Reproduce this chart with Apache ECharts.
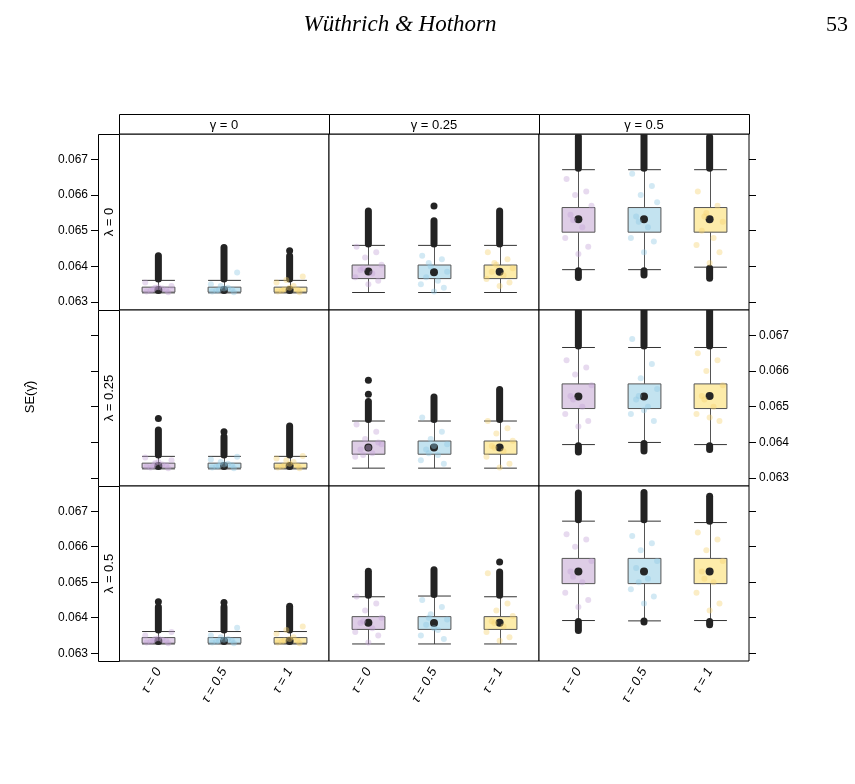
<!DOCTYPE html>
<html>
<head>
<meta charset="utf-8">
<script src="https://cdn.jsdelivr.net/npm/echarts@6/dist/echarts.min.js"></script>
<style>
  html, body { margin: 0; padding: 0; background: #fff; }
  #chart { width: 855px; height: 784px; }
</style>
</head>
<body>
<div id="chart"></div>
<script>
// labels
var tauLabels = ['τ = 0', 'τ = 0.5', 'τ = 1'];
var gammaLabels = ['γ = 0', 'γ = 0.25', 'γ = 0.5'];
var lambdaLabels = ['λ = 0', 'λ = 0.25', 'λ = 0.5'];
var yTicks = [0.063, 0.064, 0.065, 0.066, 0.067];
// dashed reference line, one per gamma column
var trueSE = [0.06325, 0.06375, 0.06520];

// panels row by row (lambda), then gamma; per tau: [low, q1, centre, q3, up]
var boxStats = [
    [[0.06326, 0.06328, 0.06334, 0.06342, 0.06361], [0.06326, 0.06328, 0.06334, 0.06342, 0.06361], [0.06326, 0.06328, 0.06334, 0.06342, 0.06361]],
    [[0.06327, 0.06366, 0.06386, 0.06404, 0.06459], [0.06327, 0.06366, 0.06384, 0.06404, 0.06459], [0.06327, 0.06366, 0.06385, 0.06404, 0.06459]],
    [[0.06391, 0.06496, 0.06532, 0.06565, 0.06671], [0.06391, 0.06496, 0.06532, 0.06565, 0.06671], [0.06398, 0.06496, 0.06532, 0.06565, 0.06671]],
    [[0.06326, 0.06328, 0.06334, 0.06342, 0.06361], [0.06326, 0.06328, 0.06334, 0.06342, 0.06361], [0.06326, 0.06328, 0.06334, 0.06342, 0.06361]],
    [[0.06328, 0.06367, 0.06386, 0.06404, 0.06460], [0.06328, 0.06367, 0.06386, 0.06404, 0.06460], [0.06328, 0.06367, 0.06386, 0.06404, 0.06460]],
    [[0.06394, 0.06495, 0.06529, 0.06564, 0.06666], [0.06400, 0.06495, 0.06529, 0.06564, 0.06666], [0.06394, 0.06495, 0.06530, 0.06564, 0.06666]],
    [[0.06326, 0.06328, 0.06334, 0.06344, 0.06361], [0.06326, 0.06328, 0.06334, 0.06344, 0.06361], [0.06326, 0.06328, 0.06334, 0.06344, 0.06361]],
    [[0.06326, 0.06367, 0.06386, 0.06403, 0.06459], [0.06326, 0.06367, 0.06385, 0.06403, 0.06461], [0.06326, 0.06367, 0.06386, 0.06403, 0.06459]],
    [[0.06392, 0.06496, 0.06530, 0.06567, 0.06672], [0.06391, 0.06496, 0.06530, 0.06567, 0.06672], [0.06392, 0.06496, 0.06530, 0.06567, 0.06668]]
];

// top of the dense run of outliers above the upper whisker
var outHigh = [
    [0.06430, 0.06453, 0.06429], [0.06555, 0.06528, 0.06555], [0.06764, 0.06780, 0.06763],
    [0.06435, 0.06416, 0.06446], [0.06515, 0.06527, 0.06548], [0.06780, 0.06780, 0.06780],
    [0.06430, 0.06430, 0.06432], [0.06531, 0.06535, 0.06529], [0.06751, 0.06753, 0.06742]
];
// bottom of the run below the lower whisker (gamma = 0.5 only)
var outLow = [
    null, null, [0.06369, 0.06376, 0.06367],
    null, null, [0.06373, 0.06376, 0.06380],
    null, null, [0.06364, 0.06391, 0.06380]
];
// single outliers apart from the run
var outIso = [
    [[], [], [0.06444]], [[], [0.06569], []], [[], [], []],
    [[0.06467], [0.06430], []], [[0.06535, 0.06574], [], []], [[], [], []],
    [[0.06445], [0.06443], []], [[], [], [0.06557]], [[], [], []]
];

// jittered raw points
var jitX = [-0.18, 0.12, -0.05, 0.2, -0.12, 0.06, -0.2, 0.15, 0.0, -0.08];
var jitVals = [
    [[0.06330, 0.06335, 0.06340, 0.06345, 0.06332, 0.06338, 0.06355, 0.06328, 0.06342, 0.06336],
     [0.06330, 0.06336, 0.06345, 0.06383, 0.06332, 0.06340, 0.06350, 0.06328, 0.06338, 0.06334],
     [0.06330, 0.06335, 0.06362, 0.06372, 0.06332, 0.06345, 0.06355, 0.06328, 0.06340, 0.06336]],
    [[0.06455, 0.06440, 0.06425, 0.06405, 0.06390, 0.06380, 0.06370, 0.06360, 0.06350, 0.06395],
     [0.06430, 0.06420, 0.06400, 0.06385, 0.06370, 0.06360, 0.06350, 0.06340, 0.06330, 0.06410],
     [0.06440, 0.06420, 0.06405, 0.06395, 0.06385, 0.06375, 0.06365, 0.06355, 0.06345, 0.06410]],
    [[0.06645, 0.06610, 0.06600, 0.06570, 0.06545, 0.06510, 0.06480, 0.06455, 0.06435, 0.06530],
     [0.06660, 0.06625, 0.06600, 0.06580, 0.06540, 0.06510, 0.06480, 0.06470, 0.06440, 0.06525],
     [0.06610, 0.06570, 0.06550, 0.06525, 0.06500, 0.06480, 0.06460, 0.06440, 0.06410, 0.06540]],
    [[0.06332, 0.06336, 0.06342, 0.06350, 0.06330, 0.06338, 0.06358, 0.06328, 0.06345, 0.06334],
     [0.06330, 0.06337, 0.06345, 0.06360, 0.06332, 0.06340, 0.06352, 0.06328, 0.06338, 0.06334],
     [0.06330, 0.06335, 0.06350, 0.06362, 0.06332, 0.06345, 0.06355, 0.06328, 0.06340, 0.06336]],
    [[0.06450, 0.06430, 0.06410, 0.06395, 0.06380, 0.06370, 0.06360, 0.06400, 0.06385, 0.06365],
     [0.06470, 0.06430, 0.06410, 0.06395, 0.06380, 0.06365, 0.06350, 0.06340, 0.06390, 0.06370],
     [0.06460, 0.06440, 0.06425, 0.06405, 0.06390, 0.06375, 0.06360, 0.06340, 0.06330, 0.06385]],
    [[0.06630, 0.06610, 0.06590, 0.06560, 0.06530, 0.06500, 0.06480, 0.06460, 0.06445, 0.06520],
     [0.06690, 0.06620, 0.06580, 0.06550, 0.06520, 0.06500, 0.06480, 0.06460, 0.06490, 0.06530],
     [0.06650, 0.06630, 0.06600, 0.06560, 0.06530, 0.06500, 0.06480, 0.06460, 0.06470, 0.06520]],
    [[0.06330, 0.06335, 0.06340, 0.06360, 0.06332, 0.06338, 0.06350, 0.06328, 0.06342, 0.06336],
     [0.06330, 0.06336, 0.06345, 0.06372, 0.06332, 0.06340, 0.06350, 0.06328, 0.06338, 0.06334],
     [0.06330, 0.06335, 0.06365, 0.06375, 0.06332, 0.06345, 0.06355, 0.06328, 0.06340, 0.06336]],
    [[0.06460, 0.06440, 0.06420, 0.06400, 0.06385, 0.06370, 0.06360, 0.06350, 0.06330, 0.06390],
     [0.06450, 0.06430, 0.06410, 0.06395, 0.06380, 0.06365, 0.06350, 0.06340, 0.06370, 0.06400],
     [0.06525, 0.06440, 0.06420, 0.06405, 0.06390, 0.06375, 0.06360, 0.06345, 0.06335, 0.06385]],
    [[0.06635, 0.06620, 0.06600, 0.06560, 0.06530, 0.06500, 0.06470, 0.06450, 0.06430, 0.06515],
     [0.06630, 0.06610, 0.06590, 0.06560, 0.06540, 0.06510, 0.06480, 0.06460, 0.06440, 0.06500],
     [0.06640, 0.06620, 0.06590, 0.06560, 0.06530, 0.06500, 0.06470, 0.06440, 0.06420, 0.06510]]
];

var boxColors = ['#decde6', '#c3e3f0', '#fdecaa'];
var jitColors = ['#c4a3d6', '#8fc8e3', '#f5d16f'];

var chart = echarts.init(document.getElementById('chart'));
var font = '"Liberation Sans", Arial, sans-serif';
var panelLeft = 119, panelW = 210;
var rowTop = [134, 310, 486], rowH = [176, 176, 175];

function renderBox(params, api) {
    var x = api.value(0);
    var low = api.coord([x, api.value(1)]);
    var q1 = api.coord([x, api.value(2)]);
    var q3 = api.coord([x, api.value(4)]);
    var up = api.coord([x, api.value(5)]);
    var hw = api.size([0.25, 0])[0];
    var cx = Math.round(low[0]) + 0.5;
    return {
        type: 'group',
        children: [
            {type: 'line', shape: {x1: cx, y1: q3[1], x2: cx, y2: up[1]}, style: {stroke: '#555', lineWidth: 1}},
            {type: 'line', shape: {x1: cx, y1: q1[1], x2: cx, y2: low[1]}, style: {stroke: '#555', lineWidth: 1}},
            {type: 'line', shape: {x1: cx - hw, y1: up[1], x2: cx + hw, y2: up[1]}, style: {stroke: '#333', lineWidth: 1}},
            {type: 'line', shape: {x1: cx - hw, y1: low[1], x2: cx + hw, y2: low[1]}, style: {stroke: '#333', lineWidth: 1}},
            {type: 'rect', shape: {x: cx - hw, y: q3[1], width: 2 * hw, height: q1[1] - q3[1]},
             style: {fill: boxColors[api.value(6)], stroke: '#555', lineWidth: 1}}
        ]
    };
}

function renderRun(params, api) {
    var a = api.coord([api.value(0), api.value(1)]);
    var b = api.coord([api.value(0), api.value(2)]);
    return {
        type: 'line',
        shape: {x1: a[0], y1: a[1], x2: b[0], y2: b[1]},
        style: {stroke: '#232323', lineWidth: 7, lineCap: 'round'}
    };
}

var grids = [], xAxes = [], yAxes = [], series = [], graphics = [];

for (var r = 0; r < 3; r++) {
    for (var c = 0; c < 3; c++) {
        var g = r * 3 + c;
        grids.push({
            left: panelLeft + c * panelW, top: rowTop[r], width: panelW, height: rowH[r],
            show: true, borderColor: '#000', borderWidth: 1, backgroundColor: '#fff'
        });
        xAxes.push({
            gridIndex: g, type: 'value', min: 0.4, max: 3.6,
            axisLine: {show: false}, axisTick: {show: false}, splitLine: {show: false},
            axisLabel: {
                show: r === 2, customValues: [1, 2, 3], rotate: 60, margin: 8,
                fontFamily: font, fontSize: 13, fontStyle: 'italic', color: '#000',
                formatter: function (v) { return tauLabels[Math.round(v) - 1]; }
            }
        });
        var yShow = c !== 1;
        yAxes.push({
            gridIndex: g, type: 'value', min: 0.06278, max: 0.06771,
            show: yShow,
            position: c === 0 ? 'left' : 'right',
            offset: c === 0 ? 21 : 0,
            axisLine: {show: false}, splitLine: {show: false},
            axisTick: {show: true, length: 7, customValues: yTicks, lineStyle: {color: '#000'}},
            axisLabel: {
                show: (c === 0 && r !== 1) || (c === 2 && r === 1),
                customValues: yTicks, margin: 10,
                fontFamily: font, fontSize: 12, color: '#000',
                formatter: function (v) { return v.toFixed(3); }
            }
        });

        var boxData = [], runData = [], isoData = [], midData = [];
        for (var k = 0; k < 3; k++) {
            var s = boxStats[g][k];
            boxData.push([k + 1, s[0], s[1], s[2], s[3], s[4], k]);
            runData.push([k + 1, s[4] + 0.00004, outHigh[g][k]]);
            if (outLow[g]) {
                runData.push([k + 1, s[0] - 0.00003, outLow[g][k]]);
            }
            outIso[g][k].forEach(function (v) { isoData.push([k + 1, v]); });
            midData.push([k + 1, s[2]]);
        }
        series.push({
            type: 'custom', xAxisIndex: g, yAxisIndex: g, z: 2, clip: true,
            renderItem: renderBox, data: boxData, silent: true
        });
        series.push({
            type: 'custom', xAxisIndex: g, yAxisIndex: g, z: 3, clip: true,
            renderItem: renderRun, data: runData, silent: true
        });
        series.push({
            type: 'scatter', xAxisIndex: g, yAxisIndex: g, z: 3, symbolSize: 7,
            itemStyle: {color: '#232323', opacity: 1}, data: isoData, silent: true
        });
        series.push({
            type: 'scatter', xAxisIndex: g, yAxisIndex: g, z: 4, data: [], silent: true,
            markLine: {
                silent: true, symbol: ['none', 'none'], label: {show: false},
                lineStyle: {color: '#000', width: 1, type: [4, 3]},
                data: [{yAxis: trueSE[c]}]
            }
        });
        series.push({
            type: 'scatter', xAxisIndex: g, yAxisIndex: g, z: 5, symbolSize: 8,
            itemStyle: {color: '#262626', opacity: 1}, data: midData, silent: true
        });
        var jit = [];
        for (var k2 = 0; k2 < 3; k2++) {
            for (var j = 0; j < jitX.length; j++) {
                jit.push({value: [k2 + 1 + jitX[j], jitVals[g][k2][j]], itemStyle: {color: jitColors[k2]}});
            }
        }
        series.push({
            type: 'scatter', xAxisIndex: g, yAxisIndex: g, z: 6, symbolSize: 6,
            itemStyle: {opacity: 0.4}, data: jit, silent: true
        });
    }
}

// strips
for (var c2 = 0; c2 < 3; c2++) {
    graphics.push({
        type: 'rect', shape: {x: panelLeft + c2 * panelW + 0.5, y: 114.5, width: panelW, height: 19.5},
        style: {fill: '#fff', stroke: '#000', lineWidth: 1}
    });
    graphics.push({
        type: 'text', x: panelLeft + c2 * panelW + panelW / 2, y: 125,
        style: {text: gammaLabels[c2], fontFamily: font, fontSize: 13, fill: '#000',
                textAlign: 'center', textVerticalAlign: 'middle'}
    });
}
for (var r2 = 0; r2 < 3; r2++) {
    graphics.push({
        type: 'rect', shape: {x: 98.5, y: rowTop[r2] + 0.5, width: 21, height: rowH[r2]},
        style: {fill: '#fff', stroke: '#000', lineWidth: 1}
    });
    graphics.push({
        type: 'text', x: 109, y: rowTop[r2] + rowH[r2] / 2, rotation: Math.PI / 2,
        style: {text: lambdaLabels[r2], fontFamily: font, fontSize: 13, fill: '#000',
                textAlign: 'center', textVerticalAlign: 'middle'}
    });
}
graphics.push({
    type: 'text', x: 30, y: 397, rotation: Math.PI / 2,
    style: {text: 'SE(γ\u0302)', fontFamily: font, fontSize: 13, fill: '#000',
            textAlign: 'center', textVerticalAlign: 'middle'}
});
graphics.push({
    type: 'text', x: 400, y: 25,
    style: {text: 'Wüthrich & Hothorn', fontFamily: '"Liberation Serif", serif', fontSize: 23,
            fontStyle: 'italic', fill: '#000', textAlign: 'center', textVerticalAlign: 'middle'}
});
graphics.push({
    type: 'text', x: 848, y: 25,
    style: {text: '53', fontFamily: '"Liberation Serif", serif', fontSize: 22,
            fill: '#000', textAlign: 'right', textVerticalAlign: 'middle'}
});

chart.setOption({
    animation: false,
    backgroundColor: '#fff',
    grid: grids,
    xAxis: xAxes,
    yAxis: yAxes,
    series: series,
    graphic: graphics
});
</script>
</body>
</html>
